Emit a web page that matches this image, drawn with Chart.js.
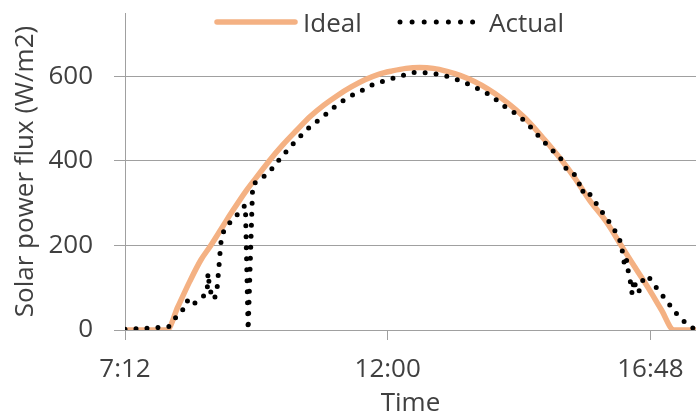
<!DOCTYPE html>
<html>
<head>
<meta charset="utf-8">
<script src="https://cdn.jsdelivr.net/npm/chart.js@4.4.1/dist/chart.umd.min.js"></script>
<style>
html,body{margin:0;padding:0;background:#fff;}
#wrap{position:relative;width:696px;height:419px;}
#legend{position:absolute;left:0;top:0;}
</style>
</head>
<body>
<div id="wrap">
  <canvas id="chart1" width="696" height="419"></canvas>
  <svg id="legend" width="696" height="44">
    <line x1="217" y1="22" x2="295" y2="22" stroke="#F4B183" stroke-width="5.5" stroke-linecap="round"/>
    <text x="303" y="32" font-family="Open Sans" font-size="26" fill="#404040">Ideal</text>
    <line x1="400" y1="22" x2="474" y2="22" stroke="#000" stroke-width="5" stroke-dasharray="0 12.1" stroke-linecap="round"/>
    <text x="489" y="32" font-family="Open Sans" font-size="26" fill="#404040">Actual</text>
  </svg>
</div>
<script>
// axis ticks
const xTicks=['7:12','12:00','16:48'];
const yTicks=[0,200,400,600];

// ideal curve
const idealTimes=['7:12','7:58','8:10','8:23','8:35','8:46','9:00','9:10','9:25','9:40','9:50','10:05','10:20','10:35','10:50','11:05','11:20','11:35','11:50','12:05','12:20','12:35','12:50','13:05','13:20','13:35','13:50','14:05','14:20','14:35','14:50','15:00','15:12','15:25','15:41','16:00','16:16','16:30','16:47','17:00','17:14','17:38'];
const idealValues=[0,0,55,115,165,200,248,282,330,372,400,438,472,505,532,555,575,592,605,613,619,621,619,612,602,588,570,548,522,492,455,430,398,360,308,255,200,152,95,48,0,0];

// measured
const actualTimes=['7:12','7:30','7:50','8:00','8:07','8:14','8:20','8:24','8:34','8:42','8:43','8:45','8:50','8:53','8:55','8:57','9:00','9:07','9:15','9:21','9:24','9:27','9:32','9:38','9:51','9:56','10:05','10:13','10:20','10:29','10:38','10:48','10:56','11:05','11:15','11:25','11:34','11:44','11:54','12:05','12:16','12:27','12:38','12:49','13:02','13:13','13:24','13:36','13:46','13:54','14:03','14:11','14:22','14:32','14:41','14:50','14:57','15:05','15:13','15:16','15:23','15:29','15:32','15:38','15:44','15:52','15:58','16:05','16:12','16:16','16:18','16:20','16:22','16:24','16:26','16:28','16:30','16:32','16:35','16:38','16:42','16:46','16:52','16:59','17:07','17:14','17:22','17:31','17:38'];
const actualValues=[2,3,6,8,28,42,70,57,72,88,135,95,72,100,150,205,232,254,273,290,295,0,345,352,375,391,412,434,448,470,486,503,517,534,548,560,569,581,588,595,602,609,609,607,602,595,586,574,564,553,538,524,510,491,470,448,434,415,398,379,372,356,325,334,313,289,270,249,225,204,175,150,165,135,115,85,120,100,88,110,128,126,107,88,66,45,26,8,2];

function toMin(s){const p=s.split(':');return +p[0]*60+ +p[1];}
function fmt(v){const h=Math.floor(v/60);const m=Math.round(v-h*60);return h+':'+String(m).padStart(2,'0');}

const txt='#404040', grid='#a0a0a0';
const font={family:'Open Sans',size:26};
Chart.defaults.font.family='Open Sans';

const ctx1=document.getElementById('chart1').getContext('2d');
new Chart(ctx1,{
  type:'line',
  data:{datasets:[
    {label:'Ideal',data:idealTimes.map((t,i)=>({x:toMin(t),y:idealValues[i]})),borderColor:'#F4B183',borderWidth:5.5,pointRadius:0,cubicInterpolationMode:'monotone',order:2},
    {label:'Actual',data:actualTimes.map((t,i)=>({x:toMin(t),y:actualValues[i]})),borderColor:'#000',borderWidth:5,borderDash:[0,11],borderCapStyle:'round',pointRadius:0,tension:0,order:1}
  ]},
  options:{
    responsive:false,animation:false,devicePixelRatio:1,
    layout:{padding:{top:13,right:0,bottom:0,left:0}},
    plugins:{legend:{display:false},tooltip:{enabled:false}},
    scales:{
      x:{type:'linear',min:toMin('7:12'),max:1058,
        afterBuildTicks:s=>{s.ticks=xTicks.map(t=>({value:toMin(t)}));},
        afterFit:s=>{s.height=89;s.paddingLeft=0;s.paddingRight=0;},
        ticks:{callback:v=>fmt(v),font,color:txt,padding:14,maxRotation:0,autoSkip:false},
        grid:{drawOnChartArea:false,drawTicks:true,tickLength:10,color:grid},
        border:{color:grid},
        title:{display:true,text:'Time',font,color:txt,padding:{top:0,bottom:0}}},
      y:{min:0,max:750,
        afterBuildTicks:s=>{s.ticks=yTicks.map(v=>({value:v}));},
        afterFit:s=>{s.width=125;s.paddingTop=0;s.paddingBottom=0;},
        ticks:{font,color:txt,padding:21},
        grid:{color:grid,tickLength:11},
        border:{color:grid},
        title:{display:true,text:'Solar power flux (W/m2)',font,color:txt,padding:{top:10,bottom:0}}}
    }
  }
});
</script>
</body>
</html>
